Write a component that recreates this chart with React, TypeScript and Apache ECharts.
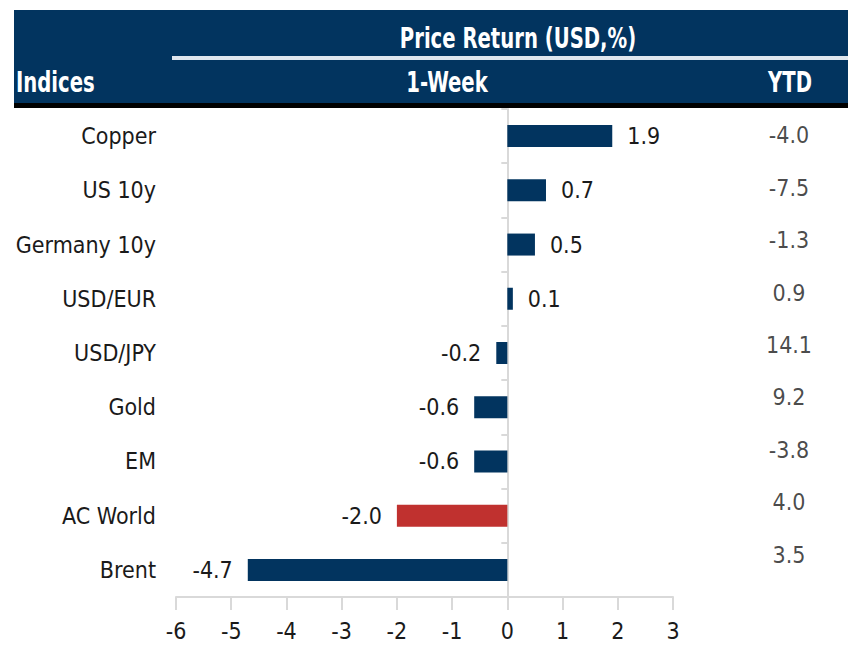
import React, { useEffect, useRef } from "react";
import * as echarts from "echarts";

const categories = ["Copper", "US 10y", "Germany 10y", "USD/EUR", "USD/JPY", "Gold", "EM", "AC World", "Brent"];
const weekValues = [1.9, 0.7, 0.5, 0.1, -0.2, -0.6, -0.6, -2.0, -4.7];
const ytdValues = [-4.0, -7.5, -1.3, 0.9, 14.1, 9.2, -3.8, 4.0, 3.5];
const highlighted = "AC World";
const xTicks = [-6, -5, -4, -3, -2, -1, 0, 1, 2, 3];

const NAVY = "#02345f";
const RED = "#c0312f";
const FONT = "'DejaVu Sans Condensed', 'Liberation Sans', sans-serif";
const FS = 23;

export default function App() {
  const ref = useRef<HTMLDivElement>(null);
  useEffect(() => {
    document.body.style.margin = "0";
    const chart = echarts.init(ref.current!, null, { renderer: "svg" });
    const headText = (text: string, x: number, y: number, align: string) => ({
      type: "text", x, y, scaleX: 0.84, scaleY: 1.12,
      style: { text, fill: "#ffffff", font: `bold 26px ${FONT}`, align, verticalAlign: "middle" },
    });
    chart.setOption({
      animation: false,
      backgroundColor: "#ffffff",
      textStyle: { fontFamily: FONT },
      graphic: [
        { type: "rect", shape: { x: 14, y: 10, width: 834, height: 94 }, style: { fill: NAVY } },
        { type: "rect", shape: { x: 14, y: 103, width: 834, height: 5 }, style: { fill: "#000000" } },
        { type: "rect", shape: { x: 172, y: 56, width: 676, height: 4 }, style: { fill: "#dfe6ee" } },
        headText("Price Return (USD,%)", 518, 38, "center"),
        headText("Indices", 16, 82, "left"),
        headText("1-Week", 447, 82, "center"),
        headText("YTD", 790, 82, "center"),
      ],
      grid: [
        { left: 176, right: 175, top: 109, height: 488, containLabel: false },
        { left: 769, width: 40, top: 109, height: 472 },
      ],
      xAxis: [
        {
          type: "value", gridIndex: 0, min: -6, max: 3, interval: 1,
          axisLine: { show: true, lineStyle: { color: "#d9d9d9", width: 2 } },
          axisTick: { show: true, length: 13, lineStyle: { color: "#d9d9d9", width: 2 } },
          axisLabel: { color: "#1a1a1a", fontSize: FS, fontFamily: FONT, margin: 22, formatter: (v: number) => (xTicks.includes(v) ? String(v) : "") },
          splitLine: { show: false },
        },
        { type: "value", gridIndex: 1, show: false, min: 0, max: 1 },
      ],
      yAxis: [
        {
          type: "category", gridIndex: 0, data: categories, inverse: true,
          axisLine: { show: true, onZero: true, lineStyle: { color: "#d9d9d9", width: 2 } },
          axisTick: { show: true, length: 6, lineStyle: { color: "#d9d9d9", width: 2 } },
          axisLabel: { show: false },
        },
        {
          type: "category", gridIndex: 1, data: categories, inverse: true,
          axisLine: { show: false }, axisTick: { show: false },
          axisLabel: { show: false },
        },
        {
          type: "category", gridIndex: 0, data: categories, inverse: true, position: "left", offset: 0,
          axisLine: { show: false }, axisTick: { show: false },
          axisLabel: { color: "#1a1a1a", fontSize: FS, fontFamily: FONT, margin: 20 },
        },
      ],
      series: [
        {
          type: "bar", xAxisIndex: 0, yAxisIndex: 0, barWidth: 22,
          data: weekValues.map((v, i) => ({
            value: v,
            itemStyle: { color: categories[i] === highlighted ? RED : NAVY },
            label: { position: v >= 0 ? "right" : "left" },
          })),
          label: { show: true, color: "#1a1a1a", fontSize: FS, fontFamily: FONT, distance: 15, formatter: (p: any) => p.value.toFixed(1) },
        },
        {
          type: "scatter", xAxisIndex: 1, yAxisIndex: 1, symbolSize: 1,
          itemStyle: { color: "rgba(0,0,0,0)" },
          data: ytdValues.map((v, i) => [0.5, categories[i], v]),
          encode: { x: 0, y: 1 },
          label: { show: true, position: "inside", color: "#1a1a1a", fontSize: FS, fontFamily: FONT, formatter: (p: any) => p.value[2].toFixed(1) },
        },
      ],
    });
    return () => chart.dispose();
  }, []);
  return <div ref={ref} style={{ width: 848, height: 646 }} />;
}
